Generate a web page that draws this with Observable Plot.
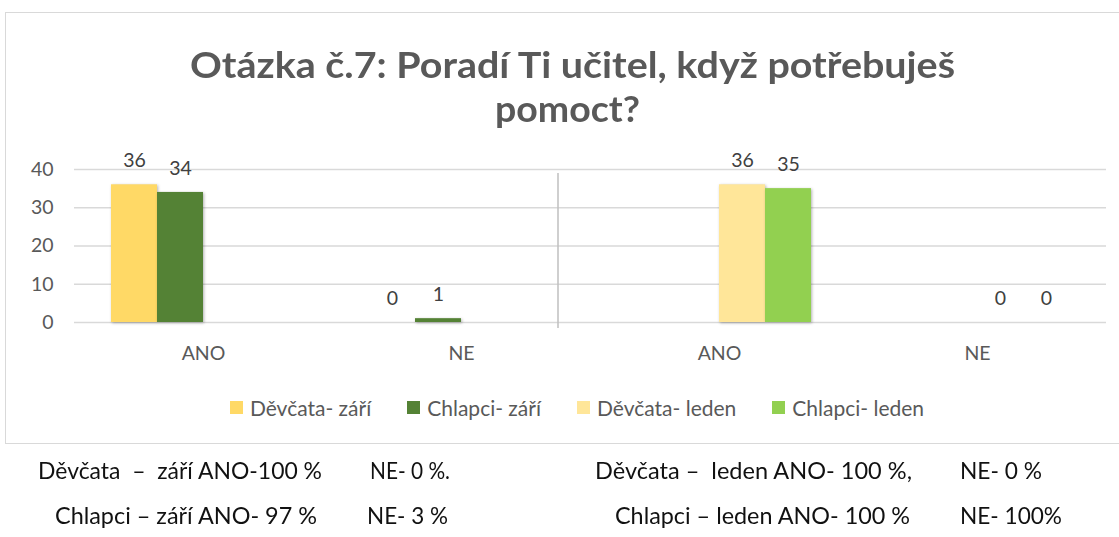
<!DOCTYPE html>
<html><head><meta charset="utf-8">
<script src="https://cdn.jsdelivr.net/npm/d3@7"></script>
<script src="https://cdn.jsdelivr.net/npm/@observablehq/plot@0.6"></script>
<style>
html,body{margin:0;padding:0;background:#fff;}
body{width:1119px;height:537px;position:relative;overflow:hidden;font-family:Lato,"Open Sans",sans-serif;}
#box{position:absolute;left:5px;top:12px;width:1140px;height:432px;border:1.5px solid #d9d9d9;box-sizing:border-box;}
.t{position:absolute;white-space:pre;transform-origin:0 0;line-height:1;}
.title{font-weight:700;font-size:36px;color:#595959;}
.note{font-size:24px;color:#111;}
#chart{position:absolute;left:0;top:140px;}
#legend{position:absolute;left:0;top:396px;width:1154px;display:flex;justify-content:center;gap:36px;font-size:21px;line-height:23px;color:#595959;}
#legend .it{display:flex;align-items:center;gap:7px;white-space:pre;}
#legend .sw{width:13px;height:13px;display:inline-block;}
</style></head><body>
<div id="box"></div>
<div id="chart"></div>
<div id="legend"></div>
<script>
// ---- data ----
const titleLines = ["Otázka č.7: Poradí Ti učitel, když potřebuješ", "pomoct?"];
const categories = ["ANO", "NE", "ANO", "NE"];
const periods = ["září", "září", "leden", "leden"];
const seriesNames = ["Děvčata- září", "Chlapci- září", "Děvčata- leden", "Chlapci- leden"];
const seriesColors = ["#FFD966", "#548235", "#FFE699", "#92D050"];
const devcataZari = [36, 0];   // ANO, NE
const chlapciZari = [34, 1];
const devcataLeden = [36, 0];
const chlapciLeden = [35, 0];
const yTicks = [0, 10, 20, 30, 40];
const noteRow1 = ["Děvčata  –  září ANO-100 %", "NE- 0 %.", "Děvčata –  leden ANO- 100 %,", "NE- 0 %"];
const noteRow2 = ["Chlapci – září ANO- 97 %", "NE- 3 %", "Chlapci – leden ANO- 100 %", "NE- 100%"];

// ---- table built from arrays ----
const catKeys = categories.map((c, i) => c + "|" + periods[i]);
const rows = [];
[0, 1].forEach(j => {
  rows.push({cat: catKeys[j], series: seriesNames[0], value: devcataZari[j]});
  rows.push({cat: catKeys[j], series: seriesNames[1], value: chlapciZari[j]});
  rows.push({cat: catKeys[j + 2], series: seriesNames[2], value: devcataLeden[j]});
  rows.push({cat: catKeys[j + 2], series: seriesNames[3], value: chlapciLeden[j]});
});

const chart = Plot.plot({
  width: 1119, height: 240,
  marginTop: 29, marginBottom: 58, marginLeft: 74, marginRight: 13,
  style: {fontFamily: "Lato, 'Open Sans', sans-serif", fontSize: "19.5px", color: "#595959", background: "transparent", overflow: "visible"},
  fx: {domain: catKeys, padding: 0, axis: "bottom", label: null, tickSize: 0, tickPadding: 24, tickFormat: k => k.split("|")[0]},
  x: {domain: seriesNames, paddingInner: 0, paddingOuter: 0.745, axis: null},
  y: {domain: [0, 40], ticks: yTicks, tickSize: 0, tickPadding: 21, label: null},
  color: {domain: seriesNames, range: seriesColors},
  marks: [
    Plot.ruleY(yTicks, {stroke: "#d9d9d9", strokeWidth: 1.5}),
    Plot.barY(rows, {fx: "cat", x: "series", y: "value", fill: "series"}),
    Plot.text(rows, {fx: "cat", x: "series", y: "value", text: d => String(d.value), dy: -24, fill: "#404040", fontSize: 19.5}),
    Plot.ruleX([{cat: catKeys[1], series: seriesNames[3]}], {fx: "cat", x: "series", stroke: "#bfbfbf", strokeWidth: 1.5, dx: 27.5, insetTop: 4, insetBottom: -6})
  ]
});
document.getElementById("chart").appendChild(chart);
chart.querySelectorAll('g[aria-label="bar"] rect').forEach(r => r.style.filter = "drop-shadow(1.5px 1px 1.5px rgba(0,0,0,0.3))");

// legend
const lg = document.getElementById("legend");
seriesNames.forEach((s, i) => {
  const it = document.createElement("div"); it.className = "it";
  const sw = document.createElement("span"); sw.className = "sw"; sw.style.background = seriesColors[i];
  const tx = document.createElement("span"); tx.textContent = s;
  it.appendChild(sw); it.appendChild(tx); lg.appendChild(it);
});

// text placement helper
function place(text, left, top, width, cls) {
  const el = document.createElement("div");
  el.className = "t " + cls; el.textContent = text;
  el.style.left = left + "px"; el.style.top = top + "px";
  document.body.appendChild(el);
  const w = el.getBoundingClientRect().width;
  if (width) el.style.transform = `scaleX(${width / w})`;
}
place(titleLines[0], 190, 46, 765, "title");
place(titleLines[1], 495, 90, 145, "title");
const x1 = [[38, 284], [370, 80], [595, 317], [960, 82]];
const x2 = [[55, 262], [367, 81], [615, 295], [960, 102]];
noteRow1.forEach((t, i) => place(t, x1[i][0], 458, x1[i][1], "note"));
noteRow2.forEach((t, i) => place(t, x2[i][0], 503, x2[i][1], "note"));
</script>
</body></html>
